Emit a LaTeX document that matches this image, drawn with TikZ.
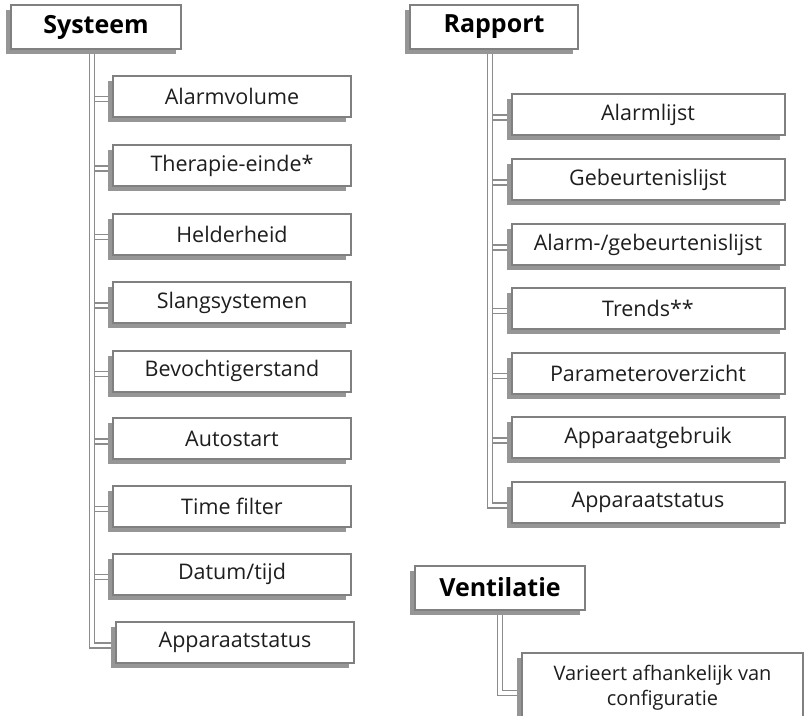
\documentclass[tikz,border=0pt]{standalone}
\usepackage{fontspec}
\setmainfont{Open Sans}
\usepackage{tikz}
\usetikzlibrary{shadows,backgrounds}
\definecolor{frameGray}{RGB}{128, 128, 128}
\definecolor{shadowGray}{RGB}{150, 150, 150}
\definecolor{linkGray}{RGB}{140, 140, 140}
\definecolor{textDark}{RGB}{30, 30, 30}

\begin{document}
\begin{tikzpicture}[x=1pt, y=-1pt,
  boxshadow/.style={drop shadow={shadow xshift=-5pt, shadow yshift=-5pt, fill=shadowGray, opacity=1}},
  head/.style={draw=frameGray, line width=2pt, fill=white, boxshadow, text=black,
    minimum width=170pt, minimum height=44pt, font=\fontsize{25}{29}\selectfont\bfseries},
  item/.style={draw=frameGray, line width=2pt, fill=white, boxshadow, text=textDark,
    minimum height=41pt, font=\fontsize{21.5}{25}\selectfont},
  sysitem/.style={item, minimum width=238pt},
  repitem/.style={item, minimum width=273pt},
  link/.style={draw=linkGray, line width=1.4pt, double=white, double distance=3.5pt}]
  \useasboundingbox (0,0) rectangle (806,715);

  % 1. Systeem
  \node[head] (sys) at (96,27) {Systeem};
  \node[sysitem] (alarmvol) at (232,96)    {Alarmvolume};
  \node[sysitem] (therapie) at (232,165.5) {Therapie-einde*};
  \node[sysitem] (helder)   at (232,234)   {Helderheid};
  \node[sysitem] (slang)    at (232,302.5) {Slangsystemen};
  \node[sysitem] (bevocht)  at (232,371)   {Bevochtigerstand};
  \node[sysitem] (autost)   at (232,438.5) {Autostart};
  \node[sysitem] (timefilt) at (232,506)   {Time filter};
  \node[sysitem] (datum)    at (232,574)   {Datum/tijd};
  \node[sysitem] (sysstat)  at (235,642.5) {Apparaatstatus};

  % 2. Rapport
  \node[head, minimum width=168pt] (rap) at (494,27) {Rapport};
  \node[repitem] (alarml)   at (648,114.5) {Alarmlijst};
  \node[repitem] (gebeurt)  at (648,179.5) {Gebeurtenislijst};
  \node[repitem] (alarmgeb) at (648,244.5) {Alarm-/gebeurtenislijst};
  \node[repitem] (trends)   at (648,308)   {Trends**};
  \node[repitem] (paramov)  at (648,373)   {Parameteroverzicht};
  \node[repitem] (appgebr)  at (648,437.5) {Apparaatgebruik};
  \node[repitem] (repstat)  at (648,502.5) {Apparaatstatus};

  % 3. Ventilatie
  \node[head] (vent) at (500,587.5) {Ventilatie};
  \node[item, minimum width=281pt, minimum height=70pt, align=center,
    font=\fontsize{20}{25}\selectfont] (config) at (662.5,688)
    {Varieert afhankelijk van\\configuratie};

  % connectors behind the boxes
  \begin{scope}[on background layer]
  \draw[link] ([xshift=-4pt]sys.south) |- ([yshift=-3pt]alarmvol.west);
  \draw[link] ([xshift=-4pt]sys.south) |- ([yshift=-3pt]therapie.west);
  \draw[link] ([xshift=-4pt]sys.south) |- ([yshift=-3pt]helder.west);
  \draw[link] ([xshift=-4pt]sys.south) |- ([yshift=-3pt]slang.west);
  \draw[link] ([xshift=-4pt]sys.south) |- ([yshift=-3pt]bevocht.west);
  \draw[link] ([xshift=-4pt]sys.south) |- ([yshift=-3pt]autost.west);
  \draw[link] ([xshift=-4pt]sys.south) |- ([yshift=-3pt]timefilt.west);
  \draw[link] ([xshift=-4pt]sys.south) |- ([yshift=-3pt]datum.west);
  \draw[link] ([xshift=-4pt]sys.south) |- ([yshift=-3pt]sysstat.west);

  \draw[link] ([xshift=-4pt]rap.south) |- ([yshift=-3pt]alarml.west);
  \draw[link] ([xshift=-4pt]rap.south) |- ([yshift=-3pt]gebeurt.west);
  \draw[link] ([xshift=-4pt]rap.south) |- ([yshift=-3pt]alarmgeb.west);
  \draw[link] ([xshift=-4pt]rap.south) |- ([yshift=-3pt]trends.west);
  \draw[link] ([xshift=-4pt]rap.south) |- ([yshift=-3pt]paramov.west);
  \draw[link] ([xshift=-4pt]rap.south) |- ([yshift=-3pt]appgebr.west);
  \draw[link] ([xshift=-4pt]rap.south) |- ([yshift=-3pt]repstat.west);

  \draw[link] (vent.south) |- ([yshift=-5pt]config.west);
  \end{scope}
\end{tikzpicture}
\end{document}
